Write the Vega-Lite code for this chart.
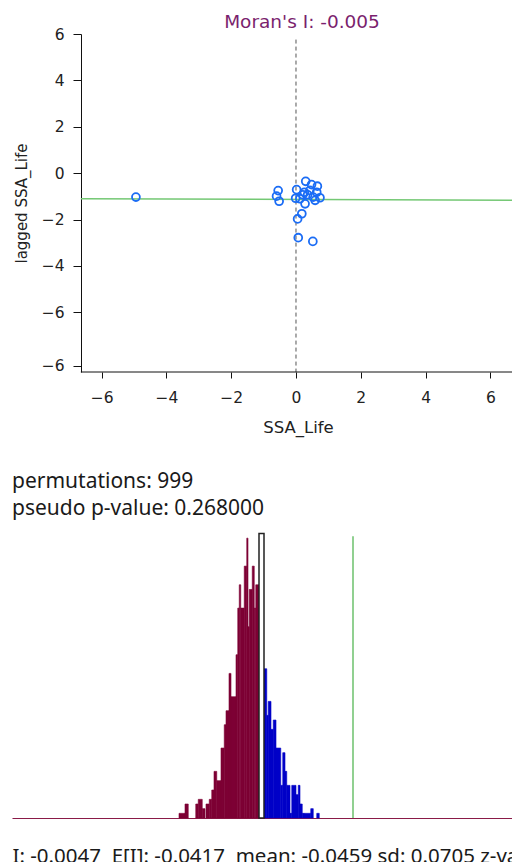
{
  "$schema": "https://vega.github.io/schema/vega-lite/v6.json",
  "padding": {"left": 12, "top": 12, "right": 0, "bottom": 0},
  "autosize": {"type": "pad"},
  "bounds": "flush",
  "spacing": 161,
  "config": {
    "view": {"stroke": null},
    "font": "DejaVu Sans",
    "axis": {"grid": false}
  },
  "vconcat": [
    {
      "width": 500,
      "height": 338,
      "title": {"text": "Moran's I: -0.005", "color": "#7b1f6e", "fontSize": 18.5, "fontWeight": "normal", "font": "DejaVu Sans", "anchor": "middle", "dx": 40, "offset": -4},
      "encoding": {
        "x": {"field": "x", "type": "quantitative",
          "scale": {"domain": [-8.765, 6.667], "nice": false, "zero": false},
          "axis": {"values": [-6, -4, -2, 0, 2, 4, 6], "domain": false, "tickSize": 6, "tickColor": "#111", "labelFont": "DejaVu Sans", "labelFontSize": 15.5, "labelColor": "#222", "labelPadding": 12, "title": "SSA_Life", "titleFont": "DejaVu Sans", "titleFontSize": 16.5, "titleFontWeight": "normal", "titleColor": "#222", "titleX": 286, "titlePadding": 14}},
        "y": {"field": "y", "type": "quantitative",
          "scale": {"domain": [-8.57, 6], "nice": false, "zero": false},
          "axis": {"values": [6, 4, 2, 0, -2, -4, -6, -8.31], "labelExpr": "datum.value < -7 ? '\u22126' : datum.label", "offset": -69, "domainColor": "#111", "tickColor": "#111", "tickSize": 8, "labelPadding": 9, "labelFont": "DejaVu Sans", "labelFontSize": 15.5, "labelColor": "#222", "title": "lagged SSA_Life", "titleFont": "DejaVu Sans", "titleFontSize": 15, "titleFontWeight": "normal", "titleColor": "#222", "titlePadding": 12}}
      },
      "layer": [
        {
          "data": {"values": [{"x": 0, "y": 5.76, "y2": -8.57}]},
          "mark": {"type": "rule", "color": "#555555", "strokeDash": [4, 3], "strokeWidth": 1},
          "encoding": {"y2": {"field": "y2"}}
        },
        {
          "data": {"values": [{"x": -6.64, "y": -1.097}, {"x": 6.667, "y": -1.163}]},
          "mark": {"type": "line", "color": "#74c874", "strokeWidth": 1.5},
          "encoding": {}
        },
        {
          "data": {"values": [{"x": -6.64, "x2": 6.667, "y": -8.57}]},
          "mark": {"type": "rule", "color": "#111111", "strokeWidth": 1},
          "encoding": {"x2": {"field": "x2"}}
        },
        {
          "data": {"values": [
            {"x": -4.94, "y": -1.03}, {"x": -0.55, "y": -0.75}, {"x": -0.60, "y": -0.99}, {"x": -0.52, "y": -1.21},
            {"x": 0.02, "y": -0.71}, {"x": -0.01, "y": -1.08}, {"x": 0.30, "y": -0.35}, {"x": 0.48, "y": -0.49},
            {"x": 0.66, "y": -0.56}, {"x": 0.64, "y": -0.82}, {"x": 0.74, "y": -1.06}, {"x": 0.59, "y": -1.17},
            {"x": 0.28, "y": -1.32}, {"x": 0.12, "y": -1.10}, {"x": 0.36, "y": -0.93}, {"x": 0.21, "y": -0.93},
            {"x": 0.43, "y": -0.74}, {"x": 0.18, "y": -1.75}, {"x": 0.05, "y": -1.97}, {"x": 0.07, "y": -2.78},
            {"x": 0.52, "y": -2.94}, {"x": 0.26, "y": -0.82}, {"x": 0.53, "y": -1.03}
          ]},
          "mark": {"type": "point", "shape": "circle", "filled": false, "color": "#1a6cf5", "strokeWidth": 1.8, "size": 62, "opacity": 1}
        }
      ]
    },
    {
      "width": 500,
      "height": 285,
      "title": {"text": ["permutations: 999", "pseudo p-value: 0.268000"], "anchor": "start", "fontSize": 21, "fontWeight": "normal", "font": "Noto Sans", "lineHeight": 27, "offset": 14, "color": "#1a1a1a"},
      "encoding": {
        "x": {"field": "start", "type": "quantitative",
          "scale": {"domain": [-0.1411, 0.0589], "nice": false, "zero": false},
          "axis": {"domain": true, "domainColor": "#8a1a48", "domainWidth": 1.2, "ticks": false, "labels": false, "title": "I: -0.0047\u00a0\u00a0E[I]: -0.0417\u00a0\u00a0mean: -0.0459 sd: 0.0705 z-value: 0.5260", "titleAnchor": "start", "titleFont": "Noto Sans", "titleFontSize": 20.5, "titleFontWeight": "normal", "titleColor": "#1a1a1a", "titlePadding": 28}},
        "y": {"field": "count", "type": "quantitative", "scale": {"domain": [0, 61.1], "nice": false}, "axis": null}
      },
      "layer": [
        {
          "data": {"values": [
            {"start": -0.0743, "end": -0.0719, "count": 1, "side": "below"},
            {"start": -0.0719, "end": -0.0706, "count": 3, "side": "below"},
            {"start": -0.0676, "end": -0.0666, "count": 3, "side": "below"},
            {"start": -0.0666, "end": -0.0650, "count": 4, "side": "below"},
            {"start": -0.0650, "end": -0.0639, "count": 2, "side": "below"},
            {"start": -0.0635, "end": -0.0622, "count": 3, "side": "below"},
            {"start": -0.0622, "end": -0.0612, "count": 4, "side": "below"},
            {"start": -0.0612, "end": -0.0603, "count": 6, "side": "below"},
            {"start": -0.0603, "end": -0.0592, "count": 10, "side": "below"},
            {"start": -0.0592, "end": -0.0575, "count": 8, "side": "below"},
            {"start": -0.0575, "end": -0.0562, "count": 15, "side": "below"},
            {"start": -0.0562, "end": -0.0555, "count": 20, "side": "below"},
            {"start": -0.0555, "end": -0.0543, "count": 23, "side": "below"},
            {"start": -0.0543, "end": -0.0535, "count": 31, "side": "below"},
            {"start": -0.0535, "end": -0.0515, "count": 26, "side": "below"},
            {"start": -0.0515, "end": -0.0508, "count": 35, "side": "below"},
            {"start": -0.0508, "end": -0.0502, "count": 45, "side": "below"},
            {"start": -0.0502, "end": -0.0496, "count": 50, "side": "below"},
            {"start": -0.0496, "end": -0.0482, "count": 45, "side": "below"},
            {"start": -0.0482, "end": -0.0472, "count": 54, "side": "below"},
            {"start": -0.0472, "end": -0.0467, "count": 60, "side": "below"},
            {"start": -0.0467, "end": -0.0462, "count": 41, "side": "below"},
            {"start": -0.0462, "end": -0.0450, "count": 49, "side": "below"},
            {"start": -0.0450, "end": -0.0442, "count": 54, "side": "below"},
            {"start": -0.0442, "end": -0.0436, "count": 45, "side": "below"},
            {"start": -0.0436, "end": -0.0423, "count": 50, "side": "below"},
            {"start": -0.0403, "end": -0.0392, "count": 32, "side": "above"},
            {"start": -0.0392, "end": -0.0386, "count": 22, "side": "above"},
            {"start": -0.0386, "end": -0.0375, "count": 25, "side": "above"},
            {"start": -0.0375, "end": -0.0366, "count": 19, "side": "above"},
            {"start": -0.0366, "end": -0.0355, "count": 21, "side": "above"},
            {"start": -0.0355, "end": -0.0336, "count": 15, "side": "above"},
            {"start": -0.0336, "end": -0.0328, "count": 7, "side": "above"},
            {"start": -0.0328, "end": -0.0319, "count": 14, "side": "above"},
            {"start": -0.0319, "end": -0.0312, "count": 10, "side": "above"},
            {"start": -0.0312, "end": -0.0299, "count": 7, "side": "above"},
            {"start": -0.0299, "end": -0.0292, "count": 1, "side": "above"},
            {"start": -0.0292, "end": -0.0275, "count": 7, "side": "above"},
            {"start": -0.0275, "end": -0.0266, "count": 5, "side": "above"},
            {"start": -0.0266, "end": -0.0259, "count": 7, "side": "above"},
            {"start": -0.0259, "end": -0.0250, "count": 3, "side": "above"},
            {"start": -0.0250, "end": -0.0243, "count": 1, "side": "above"},
            {"start": -0.0243, "end": -0.0216, "count": 1, "side": "above"},
            {"start": -0.0216, "end": -0.0206, "count": 2, "side": "above"},
            {"start": -0.0192, "end": -0.0182, "count": 1, "side": "above"}
          ]},
          "mark": {"type": "rect", "strokeWidth": 0.6},
          "encoding": {
            "x2": {"field": "end"},
            "y2": {"datum": 0},
            "color": {"field": "side", "type": "nominal", "scale": {"domain": ["below", "above"], "range": ["#7d0034", "#0000c8"]}, "legend": null},
            "stroke": {"field": "side", "type": "nominal", "scale": {"domain": ["below", "above"], "range": ["#7d0034", "#0000c8"]}, "legend": null}
          }
        },
        {
          "data": {"values": [{"start": -0.0423, "end": -0.0403, "count": 61}]},
          "mark": {"type": "rect", "fill": "#ffffff", "stroke": "#222222", "strokeWidth": 1.5},
          "encoding": {"x2": {"field": "end"}, "y2": {"datum": 0}}
        },
        {
          "data": {"values": [{"start": -0.0047, "count": 60.4}]},
          "mark": {"type": "rule", "color": "#6cc06c", "strokeWidth": 1.5},
          "encoding": {"y2": {"datum": 0}}
        }
      ]
    }
  ]
}
